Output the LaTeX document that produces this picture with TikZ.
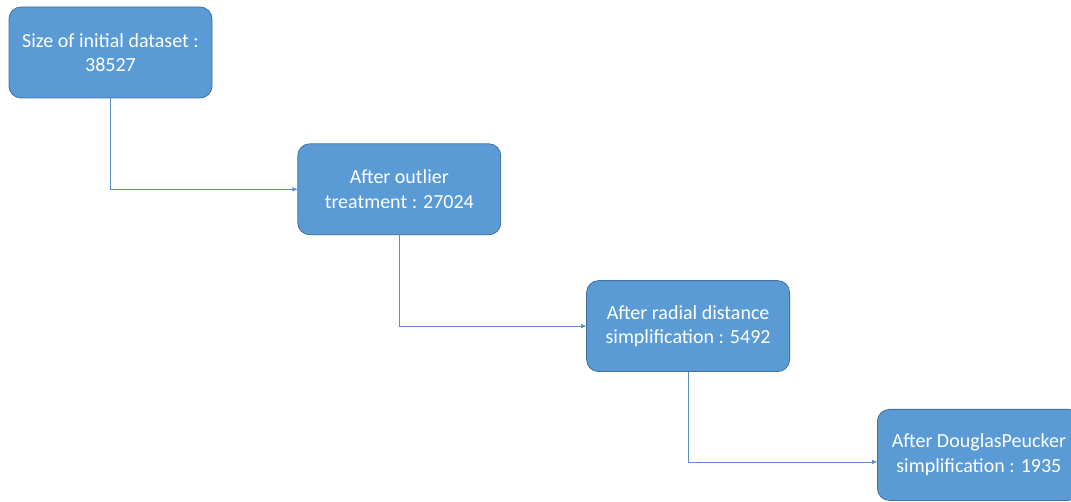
\documentclass[tikz,border=0pt]{standalone}
\usepackage{fontspec}
\setmainfont{Carlito}
\usepackage{xcolor}
\usetikzlibrary{positioning,arrows.meta}
\definecolor{boxfill}{HTML}{5B9BD5}
\definecolor{boxline}{HTML}{41719C}
\definecolor{linkblue}{HTML}{5A8FCB}

\begin{document}
\begin{tikzpicture}[
  box/.style={draw=boxline,line width=0.8pt,rounded corners=12pt,fill=boxfill,text=white,
    minimum width=203pt,minimum height=91pt,align=center,
    font=\fontsize{20pt}{24.5pt}\selectfont},
  arr/.style={-{Triangle[length=5pt,width=4pt]},line width=0.8pt,color=linkblue}
]
  \useasboundingbox (0,0) rectangle (1071pt,-502pt);
  \node[box] (init) at (110.5pt,-52.5pt) {Size of initial dataset :\\38527};
  \node[box,below right=45pt and 85pt of init] (outlier) {After outlier\\treatment : 27024};
  \node[box,below right=45pt and 85pt of outlier] (radial) {After radial distance\\simplification : 5492};
  \node[box,below right=37pt and 87pt of radial] (douglas) {After DouglasPeucker\\simplification : 1935};
  \draw[arr] (init.south) |- (outlier.west);
  \draw[arr] (outlier.south) |- (radial.west);
  \draw[arr] (radial.south) |- ([yshift=-7pt]douglas.west);
\end{tikzpicture}
\end{document}
